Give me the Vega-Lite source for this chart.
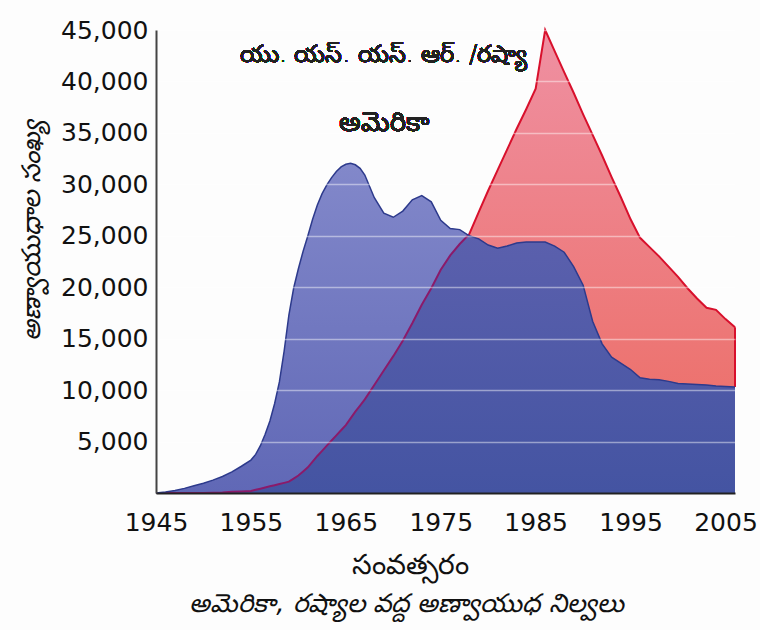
{
  "$schema": "https://vega.github.io/schema/vega-lite/v6.json",
  "width": 579,
  "height": 463,
  "autosize": {"type": "none"},
  "padding": {"left": 156, "top": 30, "right": 25, "bottom": 137},
  "background": "#fdfdfd",
  "config": {"view": {"stroke": null}, "font": "DejaVu Sans"},
  "title": {
    "text": "అమెరికా, రష్యాల వద్ద అణ్వాయుధ నిల్వలు",
    "orient": "bottom",
    "anchor": "middle",
    "dx": -39,
    "offset": 12,
    "fontSize": 26,
    "fontWeight": "normal",
    "fontStyle": "italic",
    "color": "#111"
  },
  "data": {
    "values": [
      {"year": 1945, "us": 10, "ussr": 0},
      {"year": 1946, "us": 100, "ussr": 0},
      {"year": 1947, "us": 250, "ussr": 0},
      {"year": 1948, "us": 450, "ussr": 0},
      {"year": 1949, "us": 700, "ussr": 1},
      {"year": 1950, "us": 950, "ussr": 5},
      {"year": 1951, "us": 1250, "ussr": 25},
      {"year": 1952, "us": 1600, "ussr": 50},
      {"year": 1953, "us": 2050, "ussr": 120},
      {"year": 1954, "us": 2600, "ussr": 150},
      {"year": 1955, "us": 3200, "ussr": 200},
      {"year": 1955.5, "us": 3750, "ussr": 310},
      {"year": 1956, "us": 4600, "ussr": 420},
      {"year": 1956.5, "us": 5700, "ussr": 535},
      {"year": 1957, "us": 7000, "ussr": 650},
      {"year": 1957.5, "us": 8700, "ussr": 760},
      {"year": 1958, "us": 10800, "ussr": 870},
      {"year": 1958.5, "us": 13800, "ussr": 985},
      {"year": 1959, "us": 17300, "ussr": 1100},
      {"year": 1959.5, "us": 19900, "ussr": 1400},
      {"year": 1960, "us": 21800, "ussr": 1700},
      {"year": 1960.5, "us": 23500, "ussr": 2100},
      {"year": 1961, "us": 25000, "ussr": 2500},
      {"year": 1961.5, "us": 26600, "ussr": 3050},
      {"year": 1962, "us": 28000, "ussr": 3600},
      {"year": 1962.5, "us": 29100, "ussr": 4100},
      {"year": 1963, "us": 29950, "ussr": 4600},
      {"year": 1963.5, "us": 30650, "ussr": 5100},
      {"year": 1964, "us": 31250, "ussr": 5600},
      {"year": 1964.5, "us": 31700, "ussr": 6100},
      {"year": 1965, "us": 31950, "ussr": 6600},
      {"year": 1965.5, "us": 32050, "ussr": 7250},
      {"year": 1966, "us": 31900, "ussr": 7900},
      {"year": 1966.5, "us": 31550, "ussr": 8500},
      {"year": 1967, "us": 30900, "ussr": 9100},
      {"year": 1968, "us": 28700, "ussr": 10500},
      {"year": 1969, "us": 27200, "ussr": 11900},
      {"year": 1970, "us": 26800, "ussr": 13300},
      {"year": 1971, "us": 27400, "ussr": 14800},
      {"year": 1972, "us": 28500, "ussr": 16500},
      {"year": 1973, "us": 28900, "ussr": 18300},
      {"year": 1974, "us": 28300, "ussr": 19900},
      {"year": 1975, "us": 26500, "ussr": 21700},
      {"year": 1976, "us": 25700, "ussr": 23100},
      {"year": 1977, "us": 25600, "ussr": 24200},
      {"year": 1978, "us": 25000, "ussr": 25150},
      {"year": 1979, "us": 24700, "ussr": 27300},
      {"year": 1980, "us": 24100, "ussr": 29400},
      {"year": 1981, "us": 23800, "ussr": 31400},
      {"year": 1982, "us": 24000, "ussr": 33400},
      {"year": 1983, "us": 24300, "ussr": 35400},
      {"year": 1984, "us": 24400, "ussr": 37300},
      {"year": 1985, "us": 24400, "ussr": 39300},
      {"year": 1986, "us": 24400, "ussr": 45000},
      {"year": 1987, "us": 24000, "ussr": 42950},
      {"year": 1988, "us": 23400, "ussr": 40900},
      {"year": 1989, "us": 22000, "ussr": 38900},
      {"year": 1990, "us": 20200, "ussr": 36800},
      {"year": 1991, "us": 16700, "ussr": 34800},
      {"year": 1992, "us": 14500, "ussr": 32800},
      {"year": 1993, "us": 13200, "ussr": 30700},
      {"year": 1994, "us": 12600, "ussr": 28700},
      {"year": 1995, "us": 12000, "ussr": 26600},
      {"year": 1996, "us": 11200, "ussr": 24800},
      {"year": 1997, "us": 11050, "ussr": 23900},
      {"year": 1998, "us": 11000, "ussr": 23000},
      {"year": 1999, "us": 10850, "ussr": 22000},
      {"year": 2000, "us": 10650, "ussr": 21000},
      {"year": 2001, "us": 10600, "ussr": 19900},
      {"year": 2002, "us": 10550, "ussr": 18900},
      {"year": 2003, "us": 10500, "ussr": 18000},
      {"year": 2004, "us": 10400, "ussr": 17800},
      {"year": 2005, "us": 10350, "ussr": 16900},
      {"year": 2006, "us": 10300, "ussr": 16100}
    ]
  },
  "encoding": {
    "x": {
      "field": "year",
      "type": "quantitative",
      "scale": {"domain": [1945, 2006], "nice": false, "zero": false},
      "axis": {
        "values": [1945, 1955, 1965, 1975, 1985, 1995, 2005],
        "format": "d",
        "title": "సంవత్సరం",
        "titleFontSize": 28,
        "titleFontWeight": "normal",
        "titleColor": "#111",
        "titleX": 254,
        "titleY": 72,
        "titleAlign": "center",
        "titleBaseline": "middle",
        "labelFontSize": 25,
        "labelColor": "#111",
        "labelPadding": 17,
        "labelFlush": false,
        "labelOverlap": false,
        "ticks": false,
        "grid": false,
        "domainColor": "#222",
        "domainWidth": 2,
        "zindex": 1
      }
    }
  },
  "layer": [
    {
      "mark": {
        "type": "area",
        "color": {"gradient": "linear", "x1": 0, "y1": 0, "x2": 0, "y2": 1,
          "stops": [{"offset": 0, "color": "#ef90a2"}, {"offset": 1, "color": "#ec6a60"}]}
      },
      "encoding": {
        "y": {
          "field": "ussr",
          "type": "quantitative",
          "scale": {"domain": [0, 45000], "nice": false},
          "axis": {
            "values": [5000, 10000, 15000, 20000, 25000, 30000, 35000, 40000, 45000],
            "format": ",d",
            "title": "అణ్వాయుధాల  సంఖ్య",
            "titleFontSize": 26,
            "titleFontWeight": "normal",
            "titleFontStyle": "italic",
            "titleColor": "#111",
            "titleX": -125,
            "titleY": 200,
            "titleAlign": "center",
            "titleBaseline": "middle",
            "titleAngle": -90,
            "labelFontSize": 25,
            "labelColor": "#111",
            "labelPadding": 8,
            "ticks": false,
            "grid": true,
            "gridColor": "#ffffff",
            "gridOpacity": 0.45,
            "gridWidth": 1.5,
            "domainColor": "#444",
            "domainWidth": 2,
            "zindex": 1
          }
        }
      }
    },
    {
      "mark": {
        "type": "area",
        "color": {"gradient": "linear", "x1": 0, "y1": 0, "x2": 0, "y2": 1,
          "stops": [{"offset": 0, "color": "#8288ca"}, {"offset": 1, "color": "#6068b6"}]}
      },
      "encoding": {"y": {"field": "us", "type": "quantitative"}}
    },
    {
      "transform": [
        {"fold": ["us", "ussr"], "as": ["country", "stock"]},
        {"aggregate": [{"op": "min", "field": "stock", "as": "both"}], "groupby": ["year"]}
      ],
      "mark": {
        "type": "area",
        "color": {"gradient": "linear", "x1": 0, "y1": 0, "x2": 0, "y2": 1,
          "stops": [{"offset": 0, "color": "#5b60ad"}, {"offset": 1, "color": "#4454a2"}]}
      },
      "encoding": {"y": {"field": "both", "type": "quantitative"}}
    },
    {
      "mark": {
        "type": "line",
        "strokeWidth": 2,
        "stroke": {"gradient": "linear", "x1": 0, "y1": 0, "x2": 1, "y2": 0,
          "stops": [{"offset": 0, "color": "#8a1a6a"}, {"offset": 0.538, "color": "#8a1a6a"}, {"offset": 0.542, "color": "#d8102c"}, {"offset": 1, "color": "#d8102c"}]}
      },
      "encoding": {"y": {"field": "ussr", "type": "quantitative"}}
    },
    {
      "transform": [{"filter": "datum.year == 2006"}],
      "mark": {"type": "rule", "color": "#d8102c", "strokeWidth": 2},
      "encoding": {
        "y": {"field": "us", "type": "quantitative"},
        "y2": {"field": "ussr"}
      }
    },
    {
      "mark": {"type": "line", "strokeWidth": 1.5, "color": "#2d3a8c"},
      "encoding": {"y": {"field": "us", "type": "quantitative"}}
    },
    {
      "mark": {"type": "text", "fontSize": 24, "fontWeight": 300, "color": "#222", "align": "center", "baseline": "middle"},
      "encoding": {
        "x": {"datum": 1969},
        "y": {"datum": 42600},
        "text": {"value": "యు. యస్. యస్. ఆర్. /రష్యా"}
      }
    },
    {
      "mark": {"type": "text", "fontSize": 27, "fontWeight": 300, "color": "#222", "align": "center", "baseline": "middle"},
      "encoding": {
        "x": {"datum": 1969},
        "y": {"datum": 36000},
        "text": {"value": "అమెరికా"}
      }
    }
  ]
}
